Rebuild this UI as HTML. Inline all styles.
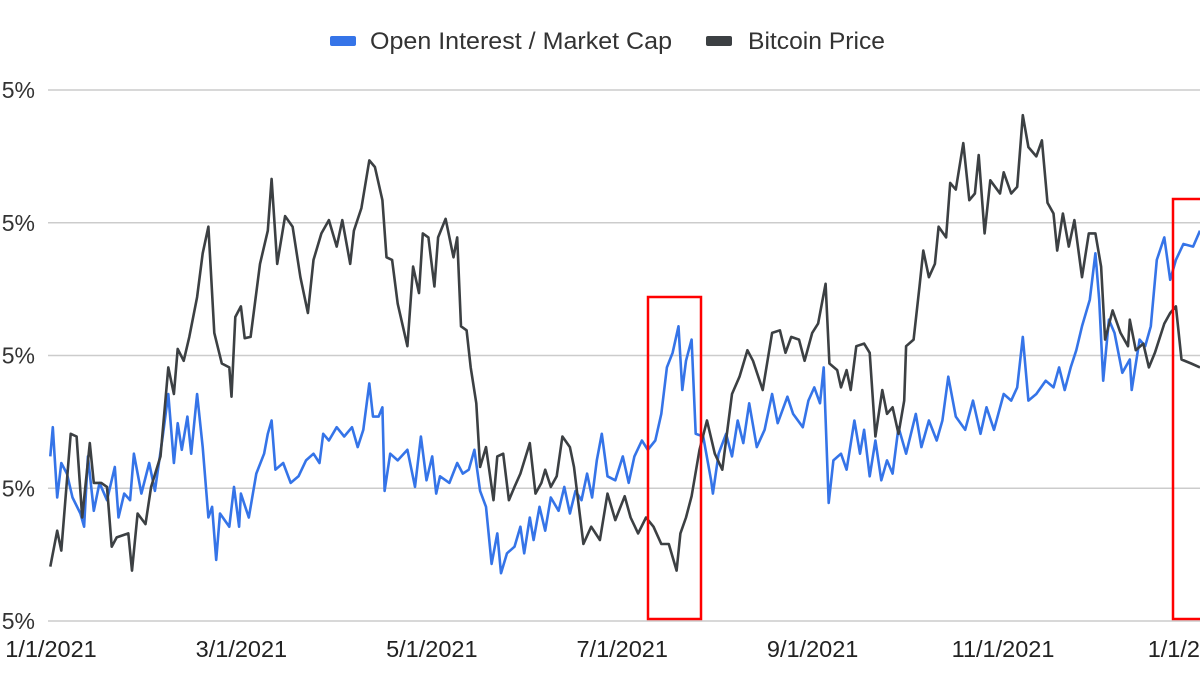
<!DOCTYPE html>
<html><head><meta charset="utf-8"><style>
html,body{margin:0;padding:0;background:#fff;width:1200px;height:675px;overflow:hidden}
svg{display:block;font-family:"Liberation Sans",Arial,sans-serif}
</style></head><body>
<svg id="chart" width="1200" height="675" viewBox="0 0 1200 675">
<g id="grid"></g>
<g id="yaxis"></g>
<g id="xaxis"></g>
<g id="series"></g>
<rect x="648" y="297" width="53" height="322" fill="none" stroke="#ff0000" stroke-width="2.5"/>
<rect x="1173" y="199" width="40" height="420" fill="none" stroke="#ff0000" stroke-width="2.5"/>
<g>
  <g>
    <rect x="330" y="36" width="26" height="10" rx="2" fill="#3574e8"/>
    <text x="370" y="49" font-size="24.5" fill="#333" textLength="302" lengthAdjust="spacingAndGlyphs">Open Interest / Market Cap</text>
  </g>
  <g>
    <rect x="706" y="36" width="26" height="10" rx="2" fill="#3c4043"/>
    <text x="748" y="49" font-size="24.5" fill="#333" textLength="137" lengthAdjust="spacingAndGlyphs">Bitcoin Price</text>
  </g>
</g>
</svg>
<script>
const yTickValues = [0,1,2,3,4];
const yTickLabels = ["5%","5%","5%","5%","5%"];
const xTickLabels = ["1/1/2021","3/1/2021","5/1/2021","7/1/2021","9/1/2021","11/1/2021","1/1/2022"];
const btcDays = [0.1,2.3,3.6,6.6,8.5,10.3,12.7,14,16.4,18.2,19.7,21.3,25,26.2,28,30.5,32.3,35.3,37.8,39.6,40.8,42.7,44.5,47,48.8,50.6,52.5,54.9,57.3,58,59.2,61,62.2,64.1,67.1,69.6,70.8,72.6,75.1,77.5,80,82.4,84.2,86.7,89.1,91.6,93.4,95.9,97.1,99.5,102,103.8,106.2,107.5,109.3,111.1,114.2,116,117.9,119.1,120.9,122.8,124,126.4,128.9,130.1,131.3,133.1,134.4,136.2,137.4,139.3,141.7,142.9,144.8,146.6,148.4,150.3,153.3,155.1,157,158.2,160,161.9,163.7,166.1,167.4,170.4,172.9,175.7,178.1,180.6,183.6,185.5,187.9,190.4,192.8,195.3,197.7,200.2,201.4,203.2,205,207.5,209.9,212.4,214.8,217.9,220.3,222.8,224.6,227.7,230.7,233.2,235,236.8,239.3,241.1,243.5,245.4,247.8,249,251.5,252.7,254.5,255.8,257.6,260.1,261.9,263.7,265.9,267.4,269.2,271.1,272.9,273.5,275.9,277.8,279,280.8,282.7,283.9,286.3,287.6,289.4,291.8,293.7,295.5,296.7,298.6,300.4,303.5,304.7,307.1,309,310.8,312.6,315.1,316.9,318.7,320.6,321.8,323.6,325.5,327.3,329.7,331.9,334,335.8,337.1,339.5,342,344.4,345,346.9,349.3,351.1,353,356,357.9,359.7,361.5,364.6,367.4];
const btcValues = [0.41,0.68,0.53,1.41,1.39,0.78,1.34,1.04,1.04,1.01,0.56,0.63,0.66,0.38,0.81,0.73,1.01,1.24,1.91,1.71,2.05,1.96,2.14,2.44,2.77,2.97,2.17,1.94,1.91,1.69,2.29,2.37,2.13,2.14,2.69,2.94,3.33,2.69,3.05,2.97,2.59,2.32,2.72,2.92,3.02,2.82,3.02,2.69,2.94,3.11,3.47,3.42,3.17,2.74,2.72,2.39,2.07,2.67,2.47,2.92,2.89,2.52,2.89,3.03,2.74,2.89,2.22,2.19,1.91,1.64,1.16,1.31,0.91,1.24,1.26,0.91,1.01,1.11,1.34,0.96,1.04,1.14,1.01,1.09,1.39,1.31,1.16,0.58,0.71,0.61,0.96,0.76,0.94,0.78,0.66,0.78,0.71,0.58,0.58,0.38,0.66,0.78,0.94,1.29,1.51,1.26,1.14,1.71,1.84,2.04,1.96,1.74,2.17,2.19,2.02,2.14,2.12,1.96,2.17,2.24,2.54,1.94,1.89,1.76,1.89,1.74,2.07,2.09,2.02,1.39,1.74,1.56,1.61,1.41,1.66,2.07,2.12,2.52,2.79,2.59,2.69,2.97,2.89,3.3,3.25,3.6,3.17,3.22,3.51,2.92,3.32,3.22,3.38,3.22,3.27,3.81,3.57,3.5,3.62,3.15,3.07,2.79,3.07,2.82,3.02,2.59,2.92,2.92,2.67,2.12,2.34,2.17,2.07,2.27,2.04,2.09,1.91,2.02,2.24,2.32,2.37,1.97,1.94,1.91];
const oiDays = [0.1,0.9,2.3,3.6,5.4,7.2,9.7,10.9,12.1,14,15.8,18.2,20.7,21.9,23.7,25.6,26.8,29.2,31.7,33.5,36,37.8,39.6,40.8,42.1,43.9,45.1,47,48.8,50.6,51.8,53.1,54.3,57.3,58.8,60.4,61,63.5,65.9,68.4,69.6,70.8,72,74.5,76.9,79.4,81.8,84.2,86.1,87.3,89.1,91.6,94,96.5,98.3,100.1,102,103.2,105,106.2,106.9,108.7,111.1,114.2,116.6,118.5,120.3,122.1,123.4,124.6,127.6,130.1,131.9,133.8,135.6,137.4,139.3,141.1,142.9,144.1,146,148.4,150.3,151.5,153.3,154.5,156.4,158.2,160,162.5,164.3,166.1,167.9,169.8,171.6,173.2,174.7,176.3,178.1,180.6,183,184.9,186.7,189.1,191,193.4,195.3,197.1,198.9,200.8,202,203.2,205,206.3,208.7,211.2,211.8,213.6,216,217.9,219.7,221.5,223.4,225.8,228.3,230.7,232.5,235.6,237.4,240.5,242.3,244.2,246,247.2,248.8,250.3,252.7,254.5,257,258.8,260.1,261.9,263.7,265.6,267.4,269.2,271.1,273.5,276.6,278.4,280.8,283.3,285.1,287,289.4,292.4,294.9,297.3,299.2,301.6,304.7,307.1,309,310.8,312.6,315.1,318.1,320.6,322.4,324.2,326.1,327.9,329.7,332.2,334,335.2,336.5,338.3,340.1,342.6,345,345.6,348.1,349.9,351.7,353.6,356,357.9,359.7,362.1,365.2,367.4];
const oiValues = [1.24,1.46,0.93,1.19,1.11,0.93,0.81,0.71,1.24,0.83,1.04,0.91,1.16,0.78,0.96,0.91,1.26,0.96,1.19,0.98,1.39,1.71,1.19,1.49,1.29,1.54,1.26,1.71,1.31,0.78,0.86,0.46,0.81,0.71,1.01,0.71,0.96,0.78,1.11,1.26,1.41,1.51,1.14,1.19,1.04,1.09,1.21,1.26,1.19,1.41,1.36,1.46,1.39,1.46,1.31,1.44,1.79,1.54,1.54,1.61,0.98,1.26,1.21,1.29,1.01,1.39,1.06,1.24,0.96,1.09,1.04,1.19,1.11,1.14,1.29,0.98,0.86,0.43,0.66,0.36,0.51,0.56,0.71,0.51,0.78,0.61,0.86,0.68,0.93,0.83,1.01,0.81,0.98,0.91,1.11,0.93,1.21,1.41,1.09,1.06,1.24,1.04,1.24,1.36,1.29,1.36,1.56,1.91,2.02,2.22,1.74,1.96,2.12,1.41,1.39,1.06,0.96,1.26,1.41,1.24,1.51,1.34,1.64,1.31,1.44,1.71,1.49,1.69,1.56,1.46,1.66,1.76,1.64,1.91,0.89,1.21,1.26,1.14,1.51,1.26,1.44,1.09,1.36,1.06,1.21,1.11,1.46,1.26,1.56,1.31,1.51,1.36,1.51,1.84,1.54,1.44,1.66,1.41,1.61,1.44,1.71,1.66,1.76,2.14,1.66,1.71,1.81,1.76,1.91,1.74,1.91,2.04,2.22,2.42,2.77,2.42,1.81,2.27,2.17,1.87,1.97,1.74,2.12,2.07,2.22,2.72,2.89,2.57,2.72,2.84,2.82,2.94];

const NS="http://www.w3.org/2000/svg";
const X0=50, PXD=3.13, Y0=621, PXV=132.75;
function xScale(d){return X0+d*PXD;}
function yScale(v){return Y0-v*PXV;}
const grid=document.getElementById('grid'), yax=document.getElementById('yaxis'), xax=document.getElementById('xaxis'), ser=document.getElementById('series');
yTickValues.forEach((v,i)=>{
  const l=document.createElementNS(NS,'line');
  l.setAttribute('x1',48);l.setAttribute('x2',1200);l.setAttribute('y1',yScale(v));l.setAttribute('y2',yScale(v));
  l.setAttribute('stroke','#cccccc');l.setAttribute('stroke-width','1.5');
  
  
  grid.appendChild(l);
  const t=document.createElementNS(NS,'text');
  t.setAttribute('x',35);t.setAttribute('y',yScale(v)+8);t.setAttribute('text-anchor','end');
  t.setAttribute('font-size','23');t.setAttribute('fill','#333');t.textContent=yTickLabels[i];
  
  
  yax.appendChild(t);
});
xTickLabels.forEach((lab,i)=>{
  const t=document.createElementNS(NS,'text');
  t.setAttribute('x',xScale(i*365/6)+1);t.setAttribute('y',657);t.setAttribute('text-anchor','middle');
  t.setAttribute('font-size','23.5');t.setAttribute('fill','#222');t.textContent=lab;
  
  
  xax.appendChild(t);
});
function drawLine(days,vals,color,name){
  const p=document.createElementNS(NS,'polyline');
  p.setAttribute('points',days.map((d,i)=>xScale(d).toFixed(1)+','+yScale(vals[i]).toFixed(1)).join(' '));
  p.setAttribute('fill','none');p.setAttribute('stroke',color);p.setAttribute('stroke-width','2.6');p.setAttribute('stroke-linejoin','round');
  
  
  ser.appendChild(p);
}
drawLine(oiDays,oiValues,'#3574e8','open-interest-line');
drawLine(btcDays,btcValues,'#3c4043','bitcoin-price-line');
</script>
</body></html>
